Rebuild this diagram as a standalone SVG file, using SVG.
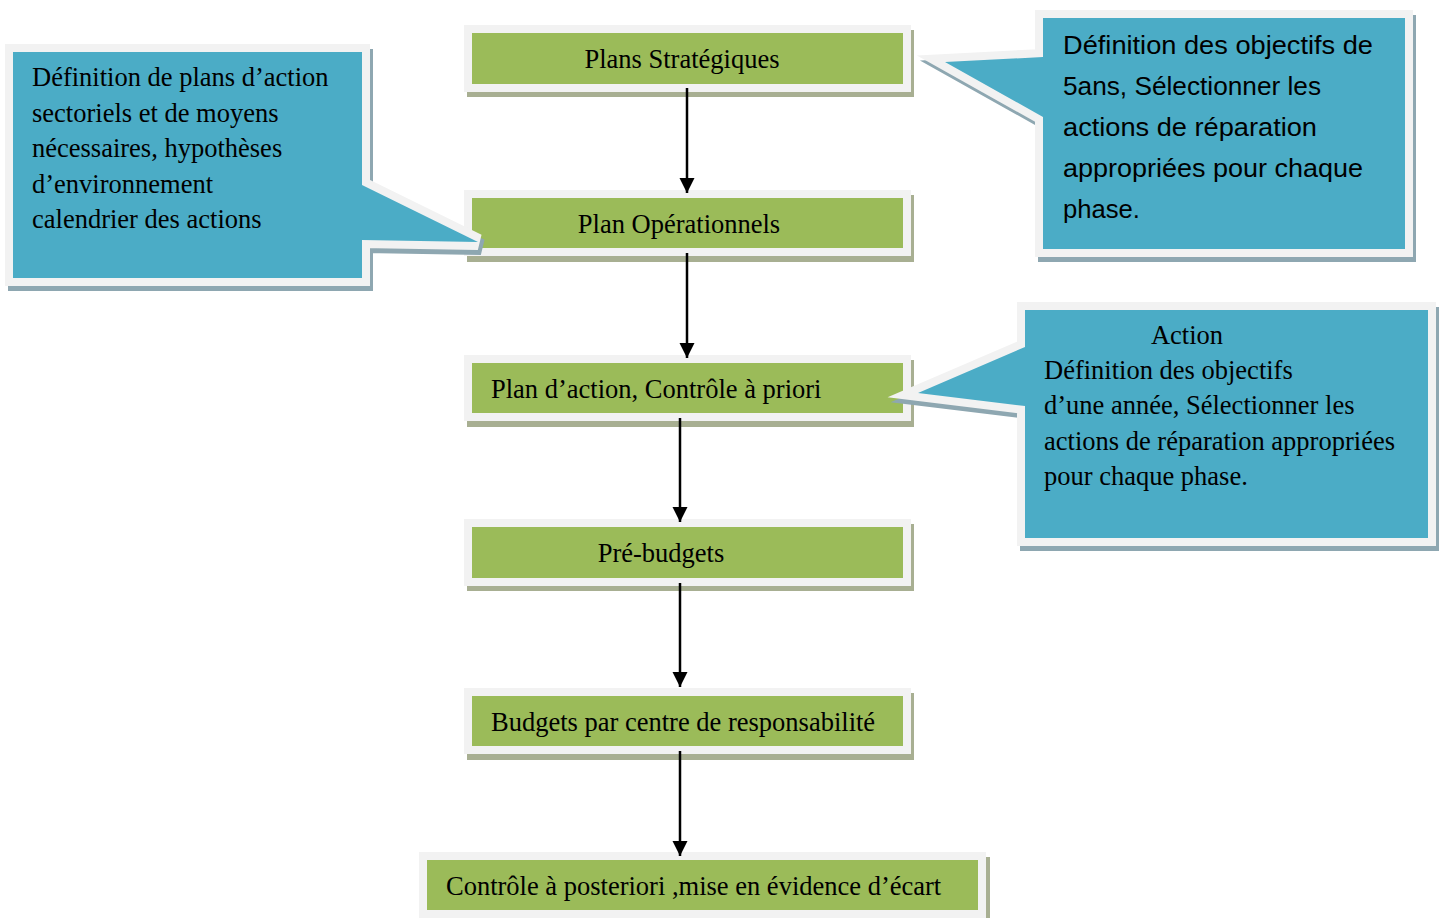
<svg xmlns="http://www.w3.org/2000/svg" width="1443" height="918" viewBox="0 0 1443 918">
<defs>
<style>
.sh{fill:#a8af92}
.fr{fill:#f2f2f2}
.gr{fill:#9bbb59}
.t{font-family:"Liberation Serif","Times New Roman",serif;font-size:26.5px;fill:#000}
.c{font-family:"Liberation Sans",Arial,sans-serif;font-size:25px;fill:#000}
.csh{fill:#8ea7b1;stroke:#8ea7b1;stroke-width:16}
.cfr{fill:none;stroke:#f2f2f2;stroke-width:16}
.cbl{fill:#4bacc6}
.arr{stroke:#000;stroke-width:2.5;fill:none;marker-end:url(#ah)}
</style>
<marker id="ah" markerUnits="userSpaceOnUse" markerWidth="16" markerHeight="16" refX="15" refY="7.5" orient="auto">
<path d="M0,0 L15,7.5 L0,15 Z" fill="#000"/>
</marker>
</defs>
<rect width="1443" height="918" fill="#fff"/>

<g id="n1">
<rect class="sh" x="467" y="30" width="447" height="67"/>
<rect class="fr" x="464" y="25" width="447" height="67"/>
<rect class="gr" x="472" y="33" width="431" height="51"/>
<text class="t" x="682" y="68" text-anchor="middle">Plans Stratégiques</text>
</g>
<g id="n2">
<rect class="sh" x="467" y="195" width="447" height="67"/>
<rect class="fr" x="464" y="190" width="447" height="66"/>
<rect class="gr" x="472" y="198" width="431" height="50"/>
<text class="t" x="679" y="233" text-anchor="middle">Plan Opérationnels</text>
</g>
<g id="n3">
<rect class="sh" x="467" y="360" width="447" height="67"/>
<rect class="fr" x="464" y="355" width="447" height="66"/>
<rect class="gr" x="472" y="363" width="431" height="50"/>
<text class="t" x="491" y="398">Plan d’action, Contrôle à priori</text>
</g>
<g id="n4">
<rect class="sh" x="467" y="524" width="447" height="67"/>
<rect class="fr" x="464" y="519" width="447" height="67"/>
<rect class="gr" x="472" y="527" width="431" height="51"/>
<text class="t" x="661" y="562" text-anchor="middle">Pré-budgets</text>
</g>
<g id="n5">
<rect class="sh" x="467" y="693" width="447" height="67"/>
<rect class="fr" x="464" y="688" width="447" height="66"/>
<rect class="gr" x="472" y="696" width="431" height="50"/>
<text class="t" x="491" y="731">Budgets par centre de responsabilité</text>
</g>
<g id="n6">
<rect class="sh" x="422" y="857" width="568" height="67"/>
<rect class="fr" x="419" y="852" width="567" height="66"/>
<rect class="gr" x="427" y="860" width="551" height="50"/>
<text class="t" x="446" y="895">Contrôle à posteriori ,mise en évidence d’écart</text>
</g>

<g id="connectors">
<line class="arr" x1="687" y1="88" x2="687" y2="193"/>
<line class="arr" x1="687" y1="253" x2="687" y2="358"/>
<line class="arr" x1="680" y1="418" x2="680" y2="522"/>
<line class="arr" x1="680" y1="583" x2="680" y2="687"/>
<line class="arr" x1="680" y1="751" x2="680" y2="856"/>
</g>

<g id="callout-left">
<path class="csh" transform="translate(3,5)" d="M13,52 H362 V185 L478,242 L362,240 V278 H13 Z"/>
<path class="cfr" d="M13,52 H362 V185 L478,242 L362,240 V278 H13 Z"/>
<path class="cbl" d="M13,52 H362 V185 L478,242 L362,240 V278 H13 Z"/>
<text class="t" x="32" y="86">Définition de plans d’action</text>
<text class="t" x="32" y="122">sectoriels et de moyens</text>
<text class="t" x="32" y="157">nécessaires, hypothèses</text>
<text class="t" x="32" y="193">d’environnement</text>
<text class="t" x="32" y="228">calendrier des actions</text>
</g>

<g id="callout-top-right">
<path class="csh" style="stroke-miterlimit:5" transform="translate(3,5)" d="M1043,18 H1405 V249 H1043 V117 L945,62 L1043,57 Z"/>
<path class="cfr" style="stroke-miterlimit:5" d="M1043,18 H1405 V249 H1043 V117 L945,62 L1043,57 Z"/>
<path class="cbl" d="M1043,18 H1405 V249 H1043 V117 L945,62 L1043,57 Z"/>
<text class="c" x="1063" y="54" textLength="310" lengthAdjust="spacingAndGlyphs">Définition des objectifs de</text>
<text class="c" x="1063" y="95" textLength="258" lengthAdjust="spacingAndGlyphs">5ans, Sélectionner les</text>
<text class="c" x="1063" y="136" textLength="254" lengthAdjust="spacingAndGlyphs">actions de réparation</text>
<text class="c" x="1063" y="177" textLength="300" lengthAdjust="spacingAndGlyphs">appropriées pour chaque</text>
<text class="c" x="1063" y="218" textLength="77" lengthAdjust="spacingAndGlyphs">phase.</text>
</g>

<g id="callout-action">
<path class="csh" style="stroke-miterlimit:5" transform="translate(3,5)" d="M1025,310 H1428 V538 H1025 V406 L918,393 L1025,347 Z"/>
<path class="cfr" style="stroke-miterlimit:5" d="M1025,310 H1428 V538 H1025 V406 L918,393 L1025,347 Z"/>
<path class="cbl" d="M1025,310 H1428 V538 H1025 V406 L918,393 L1025,347 Z"/>
<text class="t" x="1187" y="344" text-anchor="middle">Action</text>
<text class="t" x="1044" y="379">Définition des objectifs</text>
<text class="t" x="1044" y="414">d’une année, Sélectionner les</text>
<text class="t" x="1044" y="450">actions de réparation appropriées</text>
<text class="t" x="1044" y="485">pour chaque phase.</text>
</g>
</svg>
